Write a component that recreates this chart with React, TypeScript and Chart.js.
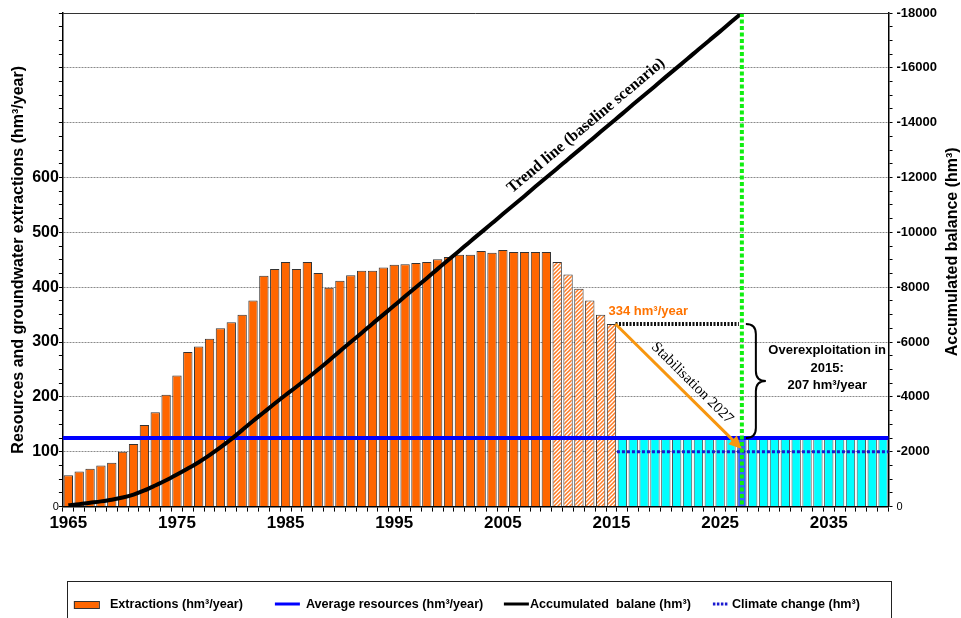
import React, { useEffect, useRef } from 'react';
import { Chart, registerables } from 'chart.js';

Chart.register(...registerables);

// ---------- DATA ----------
const years = [
  '1965','1966','1967','1968','1969','1970','1971','1972','1973','1974',
  '1975','1976','1977','1978','1979','1980','1981','1982','1983','1984',
  '1985','1986','1987','1988','1989','1990','1991','1992','1993','1994',
  '1995','1996','1997','1998','1999','2000','2001','2002','2003','2004',
  '2005','2006','2007','2008','2009','2010','2011','2012','2013','2014',
  '2015','2016','2017','2018','2019','2020','2021','2022','2023','2024',
  '2025','2026','2027','2028','2029','2030','2031','2032','2033','2034',
  '2035','2036','2037','2038','2039','2040',
];

// Extractions 1965–2009 (hm3/year)
const extractionsMeasured = [
  57, 64, 69, 75, 80, 100, 114, 149, 172, 204,
  239, 282, 292, 306, 325, 336, 350, 376, 421, 433,
  446, 433, 446, 426, 399, 412, 422, 430, 430, 436,
  441, 442, 444, 446, 451, 455, 459, 459, 466, 463,
  468, 464, 464, 464, 464,
];
// Extractions 2010–2015 (hatched)
const extractionsEstimated = [446, 423, 397, 376, 350, 333];
// Resources bars 2016–2040
const resourcesFuture = [
  125, 125, 125, 125, 125, 125, 125, 125, 125, 125,
  125, 125, 125, 125, 125, 125, 125, 125, 125, 125,
  125, 125, 125, 125, 125,
];
// Accumulated balance 1965–2027 (hm3)
const accumulatedBalance = [
  -50, -90, -140, -190, -250, -330, -440, -590, -770, -960,
  -1170, -1390, -1620, -1880, -2160, -2460, -2790, -3120, -3440, -3760,
  -4070, -4370, -4680, -5000, -5330, -5670, -6000, -6330, -6670, -7000,
  -7330, -7670, -8000, -8330, -8670, -9000, -9330, -9670, -10000, -10330,
  -10670, -11000, -11330, -11670, -12000, -12330, -12670, -13000, -13330, -13670,
  -14000, -14330, -14670, -15000, -15330, -15670, -16000, -16330, -16670, -17000,
  -17330, -17670, -18000,
];

const averageResources = 125;
const climateChangeResources = 100;
const extractionLevel2015 = 333;
const extractionLabel2015 = 334;
const overexploitation2015 = 207;
const stabilisationStartYear = '2015';
const stabilisationYear = '2027';
const stabilisationEnd = 105;
const trendAnchorYear = '2000';

const xTickLabels = ['1965', '1975', '1985', '1995', '2005', '2015', '2025', '2035'];
const leftTickLabels = [0, 100, 200, 300, 400, 500, 600];
const rightTickLabels = [0, -2000, -4000, -6000, -8000, -10000, -12000, -14000, -16000, -18000];

// ---------- STYLE ----------
const SANS = "'Liberation Sans', Arial, Helvetica, sans-serif";
const SERIF = "'Liberation Serif', 'Times New Roman', serif";
const ORANGE = '#ff6600';
const CYAN = '#00ffff';
const BLUE_BAR = '#3366ff';

export default function App() {
  const ref = useRef<HTMLCanvasElement>(null);

  useEffect(() => {
    document.body.style.margin = '0';
    const canvas = ref.current!;
    const ctx = canvas.getContext('2d')!;

    const pc = document.createElement('canvas');
    pc.width = 4;
    pc.height = 4;
    const p = pc.getContext('2d')!;
    p.fillStyle = '#ffffff';
    p.fillRect(0, 0, 4, 4);
    p.strokeStyle = '#ff7a22';
    p.lineWidth = 1.5;
    p.beginPath();
    p.moveTo(0, 4); p.lineTo(4, 0);
    p.moveTo(-1, 1); p.lineTo(1, -1);
    p.moveTo(3, 5); p.lineTo(5, 3);
    p.stroke();
    const hatch = ctx.createPattern(pc, 'repeat');

    const nMeas = extractionsMeasured.length;
    const nEst = extractionsEstimated.length;
    const barValues = [...extractionsMeasured, ...extractionsEstimated, ...resourcesFuture];
    const barColors = years.map((y, i) =>
      i < nMeas ? ORANGE : i < nMeas + nEst ? hatch : y === stabilisationYear ? BLUE_BAR : CYAN
    );
    const barBorders = years.map((_, i) => (i < nMeas + nEst ? '#333333' : '#555555'));

    const annotations = {
      id: 'annotations',
      beforeDatasetDraw(chart: any, args: any) {
        if (args.index !== 0) return;
        const { ctx: c, chartArea: a, scales } = chart;
        const x = scales.x, y = scales.y;
        const i15 = years.indexOf(stabilisationStartYear);
        const i27 = years.indexOf(stabilisationYear);
        const x15 = x.getPixelForValue(i15);
        const x16 = x.getPixelForValue(i15 + 1);
        const x27 = x.getPixelForValue(i27);
        c.save();
        // average resources
        c.strokeStyle = '#0000ff';
        c.lineWidth = 4;
        c.beginPath();
        c.moveTo(a.left, y.getPixelForValue(averageResources));
        c.lineTo(a.right, y.getPixelForValue(averageResources));
        c.stroke();
        // climate change
        c.strokeStyle = '#1a1ad0';
        c.lineWidth = 3;
        c.setLineDash([3, 2]);
        c.beginPath();
        c.moveTo((x15 + x16) / 2, y.getPixelForValue(climateChangeResources));
        c.lineTo(a.right, y.getPixelForValue(climateChangeResources));
        c.stroke();
        // 2015 level dotted
        c.strokeStyle = '#111111';
        c.lineWidth = 4;
        c.setLineDash([2, 1.5]);
        c.beginPath();
        c.moveTo(x15 + 4, y.getPixelForValue(extractionLevel2015));
        c.lineTo(x27 - 3, y.getPixelForValue(extractionLevel2015));
        c.stroke();
        c.restore();
      },
      afterDatasetsDraw(chart: any) {
        const { ctx: c, chartArea: a, scales } = chart;
        const x = scales.x, y = scales.y, y1 = scales.y1;
        const i15 = years.indexOf(stabilisationStartYear);
        const i27 = years.indexOf(stabilisationYear);
        const x15 = x.getPixelForValue(i15);
        const x27 = x.getPixelForValue(i27);
        c.save();
        // stabilisation arrow
        const sx = x15 + 4, sy = y.getPixelForValue(extractionLevel2015);
        const ex = x27, ey = y.getPixelForValue(stabilisationEnd);
        const th = Math.atan2(ey - sy, ex - sx);
        c.strokeStyle = '#f7960f';
        c.fillStyle = '#f7960f';
        c.lineWidth = 3;
        c.beginPath();
        c.moveTo(sx, sy);
        c.lineTo(ex - 8 * Math.cos(th), ey - 8 * Math.sin(th));
        c.stroke();
        c.beginPath();
        c.moveTo(ex, ey);
        c.lineTo(ex - 13 * Math.cos(th) + 6 * Math.sin(th), ey - 13 * Math.sin(th) - 6 * Math.cos(th));
        c.lineTo(ex - 13 * Math.cos(th) - 6 * Math.sin(th), ey - 13 * Math.sin(th) + 6 * Math.cos(th));
        c.closePath();
        c.fill();
        // green vertical line
        c.strokeStyle = '#11ee11';
        c.lineWidth = 4;
        c.setLineDash([4, 2.5]);
        c.beginPath();
        c.moveTo(x27, a.top);
        c.lineTo(x27, a.bottom);
        c.stroke();
        c.setLineDash([]);
        // brace
        const bx = x27 + 4, by1 = y.getPixelForValue(extractionLevel2015), by2 = y.getPixelForValue(averageResources);
        const w = 20, bm = (by1 + by2) / 2, xm = bx + w / 2;
        c.strokeStyle = '#000';
        c.lineWidth = 2;
        c.beginPath();
        c.moveTo(bx, by1);
        c.quadraticCurveTo(xm, by1, xm, by1 + w / 2);
        c.lineTo(xm, bm - w / 2);
        c.quadraticCurveTo(xm, bm, bx + w, bm);
        c.quadraticCurveTo(xm, bm, xm, bm + w / 2);
        c.lineTo(xm, by2 - w / 2);
        c.quadraticCurveTo(xm, by2, bx, by2);
        c.stroke();
        // overexploitation text
        c.fillStyle = '#000';
        c.font = `bold 13px ${SANS}`;
        c.textAlign = 'center';
        c.textBaseline = 'middle';
        const tx = (bx + w + a.right) / 2;
        const tyc = bm - 13;
        c.fillText('Overexploitation in', tx, tyc - 17.5);
        c.fillText('2015:', tx, tyc);
        c.fillText(`${overexploitation2015} hm³/year`, tx, tyc + 17.5);
        // 334 label
        c.fillStyle = '#ff7300';
        c.textAlign = 'left';
        c.fillText(`${extractionLabel2015} hm³/year`, x15 - 3, sy - 13);
        // stabilisation text
        {
          const t = 0.54;
          const cx = sx + (ex - sx) * t + 12 * Math.sin(th);
          const cy = sy + (ey - sy) * t - 12 * Math.cos(th);
          c.save();
          c.translate(cx, cy);
          c.rotate(th);
          c.fillStyle = '#000';
          c.font = `15px ${SERIF}`;
          c.textAlign = 'center';
          c.fillText(`Stabilisation ${stabilisationYear}`, 0, 0);
          c.restore();
        }
        // trend line text
        {
          const ia = years.indexOf(trendAnchorYear);
          const px1 = x.getPixelForValue(ia), py1 = y1.getPixelForValue(accumulatedBalance[ia]);
          const px2 = x.getPixelForValue(i27), py2 = y1.getPixelForValue(accumulatedBalance[i27]);
          const a2 = Math.atan2(py2 - py1, px2 - px1);
          const t = 0.5;
          const cx = px1 + (px2 - px1) * t + 14 * Math.sin(a2);
          const cy = py1 + (py2 - py1) * t - 14 * Math.cos(a2);
          c.save();
          c.translate(cx, cy);
          c.rotate(a2);
          c.fillStyle = '#000';
          c.font = `bold 16px ${SERIF}`;
          c.textAlign = 'center';
          c.textBaseline = 'middle';
          c.fillText('Trend line (baseline scenario)', 0, 0);
          c.restore();
        }
        c.restore();
      },
      afterDraw(chart: any) {
        const { ctx: c, chartArea: a } = chart;
        c.save();
        // top border
        c.strokeStyle = '#333';
        c.lineWidth = 1;
        c.beginPath();
        c.moveTo(a.left, a.top + 0.5);
        c.lineTo(a.right, a.top + 0.5);
        c.stroke();
        // right title
        c.save();
        c.translate(chart.width - 8, (a.top + a.bottom) / 2 - 8);
        c.rotate(-Math.PI / 2);
        c.fillStyle = '#000';
        c.font = `bold 16px ${SANS}`;
        c.textAlign = 'center';
        c.textBaseline = 'middle';
        c.fillText('Accumulated balance (hm³)', 0, 0);
        c.restore();
        // legend
        const L = a.left + 4;
        const R = a.right + 2;
        const T = chart.height - 37;
        c.strokeStyle = '#222';
        c.lineWidth = 1;
        c.strokeRect(Math.round(L) + 0.5, Math.round(T) + 0.5, Math.round(R - L), 80);
        const ly = chart.height - 13;
        c.font = `bold 12.6px ${SANS}`;
        c.textAlign = 'left';
        c.textBaseline = 'middle';
        // item 1
        c.fillStyle = ORANGE;
        c.fillRect(L + 7, ly - 4, 25, 8);
        c.strokeStyle = '#333';
        c.strokeRect(L + 7.5, ly - 3.5, 25, 7);
        c.fillStyle = '#000';
        c.fillText('Extractions (hm³/year)', L + 43, ly);
        // item 2
        c.strokeStyle = '#0000ff';
        c.lineWidth = 3;
        c.beginPath(); c.moveTo(L + 208, ly - 1); c.lineTo(L + 233, ly - 1); c.stroke();
        c.fillText('Average resources (hm³/year)', L + 239, ly);
        // item 3
        c.strokeStyle = '#000';
        c.beginPath(); c.moveTo(L + 437, ly - 1); c.lineTo(L + 462, ly - 1); c.stroke();
        c.fillText('Accumulated  balane (hm³)', L + 463, ly);
        // item 4
        c.strokeStyle = '#1a1ad0';
        c.setLineDash([2.5, 1.5]);
        c.beginPath(); c.moveTo(L + 646, ly - 1); c.lineTo(L + 661, ly - 1); c.stroke();
        c.setLineDash([]);
        c.fillText('Climate change (hm³)', L + 665, ly);
        c.restore();
      },
    };

    const chart = new Chart(ctx, {
      type: 'bar',
      data: {
        labels: years,
        datasets: [
          {
            type: 'line',
            label: 'Accumulated  balane (hm³)',
            data: accumulatedBalance,
            borderColor: '#000000',
            borderWidth: 4,
            pointRadius: 0,
            cubicInterpolationMode: 'monotone',
            fill: false,
            yAxisID: 'y1',
            order: 0,
          } as any,
          {
            type: 'bar',
            label: 'Extractions (hm³/year)',
            data: barValues,
            backgroundColor: barColors as any,
            borderColor: barBorders,
            borderWidth: 1,
            barPercentage: 0.86,
            categoryPercentage: 1,
            yAxisID: 'y',
            order: 1,
          } as any,
        ],
      },
      options: {
        responsive: false,
        animation: false,
        layout: { padding: { left: 5, right: 20, top: 13, bottom: 82 } },
        plugins: { legend: { display: false }, tooltip: { enabled: false } },
        scales: {
          x: {
            type: 'category',
            offset: true,
            grid: { offset: true, drawOnChartArea: false, drawTicks: true, tickLength: 5, tickColor: '#000', lineWidth: 1 },
            border: { color: '#000', width: 1.5 },
            ticks: {
              autoSkip: false,
              maxRotation: 0,
              minRotation: 0,
              padding: 2,
              color: '#000',
              font: { family: SANS, size: 17, weight: 'bold' },
              callback: (_v: any, i: number) => (xTickLabels.includes(years[i]) ? years[i] : ''),
            },
          },
          y: {
            position: 'left',
            min: 0,
            max: 900,
            grid: {
              color: (c: any) =>
                c.tick && c.tick.value % 100 === 0 && c.tick.value > 0 && c.tick.value < 900 ? '#8a8a8a' : 'rgba(0,0,0,0)',
              tickColor: '#000',
              tickLength: 4,
              lineWidth: 1,
            },
            border: { color: '#000', width: 1.5, dash: [2, 1] },
            ticks: {
              stepSize: 25,
              autoSkip: false,
              padding: 0,
              color: '#000',
              font: (c: any) =>
                c.tick && c.tick.value === 0
                  ? { family: SANS, size: 11, weight: 'normal' }
                  : { family: SANS, size: 16, weight: 'bold' },
              callback: (v: any) => (leftTickLabels.includes(Number(v)) ? String(v) : ''),
            },
            title: {
              display: true,
              text: 'Resources and groundwater extractions (hm³/year)',
              color: '#000',
              font: { family: SANS, size: 16, weight: 'bold' },
              padding: { top: 4, bottom: 4 },
            },
          },
          y1: {
            position: 'right',
            min: -18000,
            max: 0,
            reverse: true,
            grid: { drawOnChartArea: false, tickColor: '#000', tickLength: 4, lineWidth: 1 },
            border: { color: '#000', width: 1.5 },
            ticks: {
              stepSize: 500,
              autoSkip: false,
              padding: 4,
              color: '#000',
              font: (c: any) =>
                c.tick && c.tick.value === 0
                  ? { family: SANS, size: 11, weight: 'normal' }
                  : { family: SANS, size: 13, weight: 'bold' },
              callback: (v: any) => (rightTickLabels.includes(Number(v)) ? String(v) : ''),
            },
          },
        },
      } as any,
      plugins: [annotations],
    });

    return () => chart.destroy();
  }, []);

  return (
    <div style={{ width: 961, height: 618 }}>
      <canvas ref={ref} width={961} height={618} style={{ display: 'block' }} />
    </div>
  );
}
